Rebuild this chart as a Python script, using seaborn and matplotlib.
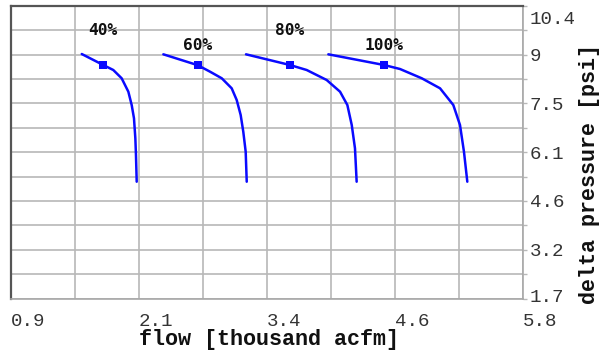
import numpy as np
import pandas as pd
import matplotlib
matplotlib.use("Agg")
import matplotlib.pyplot as plt
import matplotlib.transforms as mtransforms
import seaborn as sns

# ---- data ----
flow_40 = [1.577, 1.783, 1.879, 1.959, 2.023, 2.055, 2.077, 2.090, 2.096, 2.103]
dp_40 = [8.972, 8.645, 8.496, 8.250, 7.851, 7.455, 7.060, 6.465, 5.968, 5.174]

flow_60 = [2.358, 2.687, 2.805, 2.917, 3.012, 3.060, 3.098, 3.123, 3.146, 3.156]
dp_60 = [8.963, 8.640, 8.446, 8.250, 7.952, 7.604, 7.158, 6.661, 6.066, 5.174]

flow_80 = [3.149, 3.570, 3.730, 3.921, 4.049, 4.119, 4.161, 4.192, 4.208]
dp_80 = [8.963, 8.645, 8.496, 8.199, 7.851, 7.455, 6.860, 6.167, 5.174]

flow_100 = [3.937, 4.470, 4.623, 4.831, 5.006, 5.133, 5.197, 5.235, 5.267]
dp_100 = [8.963, 8.645, 8.526, 8.250, 7.952, 7.455, 6.860, 6.066, 5.174]

curve_names = ["40%", "60%", "80%", "100%"]
marker_flow = [1.783, 2.687, 3.570, 4.470]
marker_dp = [8.645, 8.640, 8.645, 8.645]
label_dp = [9.67, 9.22, 9.67, 9.22]

x_ticks = np.linspace(0.9, 5.8, 9)
x_tick_labels = ["0.9", "", "2.1", "", "3.4", "", "4.6", "", "5.8"]
y_ticks = np.linspace(1.7, 10.4, 13)
y_tick_labels = ["1.7", "", "3.2", "", "4.6", "", "6.1", "", "7.5", "", "9", "", "10.4"]

x_label = "flow [thousand acfm]"
y_label = "delta pressure [psi]"

# ---- build table ----
frames = []
for name, fx, fy in zip(curve_names, [flow_40, flow_60, flow_80, flow_100],
                        [dp_40, dp_60, dp_80, dp_100]):
    frames.append(pd.DataFrame({"flow": fx, "dp": fy, "curve": name}))
df = pd.concat(frames, ignore_index=True)
mk = pd.DataFrame({"flow": marker_flow, "dp": marker_dp, "curve": curve_names})

sns.set_style("white")
plt.rcParams["font.family"] = ["Liberation Mono", "DejaVu Sans Mono"]

W, H = 599, 356
fig = plt.figure(figsize=(W / 100, H / 100), dpi=100)
ax_l, ax_r, ax_t, ax_b = 11, 523, 6, 298.5
ax = fig.add_axes([ax_l / W, (H - ax_b) / H, (ax_r - ax_l) / W, (ax_b - ax_t) / H])

blue = "#0a0aff"
palette = {n: blue for n in curve_names}
sns.lineplot(data=df, x="flow", y="dp", hue="curve", units="curve", estimator=None,
             sort=False, palette=palette, linewidth=1.8, legend=False, ax=ax, zorder=3)
sns.scatterplot(data=mk, x="flow", y="dp", marker="s", s=32, color=blue,
                edgecolor=blue, linewidth=0, legend=False, ax=ax, zorder=4)

for name, fx, ly in zip(curve_names, marker_flow, label_dp):
    ax.text(fx, ly, name, ha="center", va="center", fontsize=11.6, fontweight="bold",
            family=["DejaVu Sans Mono"], color="#111111", zorder=5)

ax.set_xlim(0.9, 5.8)
ax.set_ylim(1.7, 10.4)
ax.set_xticks(x_ticks)
ax.set_xticklabels(x_tick_labels)
ax.set_yticks(y_ticks)
ax.set_yticklabels(y_tick_labels)

grid_c = "#b8b8b8"
ax.grid(True, color=grid_c, linewidth=1.2)
ax.set_axisbelow(True)

ax.yaxis.tick_right()
ax.yaxis.set_label_position("right")
ax.tick_params(axis="y", direction="out", length=3, width=1.0, color=grid_c,
               pad=2, labelsize=13.8, labelcolor="#333333", left=False, right=True)
ax.tick_params(axis="x", direction="out", length=3, width=1.0, color=grid_c,
               pad=7.8, labelsize=13.8, labelcolor="#333333")
for lab in ax.get_xticklabels():
    lab.set_ha("left")

# nudge first/last y tick labels like reference
ylabs = ax.get_yticklabels()
ylabs[-1].set_transform(ylabs[-1].get_transform() +
                        mtransforms.ScaledTranslation(0, -11 / 100, fig.dpi_scale_trans))
ylabs[0].set_transform(ylabs[0].get_transform() +
                       mtransforms.ScaledTranslation(0, 3 / 100, fig.dpi_scale_trans))

ax.set_xlabel(x_label, fontsize=15.7, fontweight="bold", color="#111111")
ax.set_ylabel(y_label, fontsize=15.7, fontweight="bold", color="#111111")
ax.xaxis.set_label_coords((269 - ax_l) / (ax_r - ax_l), (ax_b - 339.5) / (ax_b - ax_t))
ax.xaxis.label.set_va("center")
ax.yaxis.set_label_coords((590 - ax_l) / (ax_r - ax_l), (ax_b - 174) / (ax_b - ax_t))
ax.yaxis.label.set_va("center")
ax.yaxis.label.set_rotation(90)

for side in ["left", "top"]:
    ax.spines[side].set_color("#555555")
    ax.spines[side].set_linewidth(1.6)
for side in ["right", "bottom"]:
    ax.spines[side].set_color("#a8a8a8")
    ax.spines[side].set_linewidth(1.2)

fig.savefig("out.png", dpi=100)
